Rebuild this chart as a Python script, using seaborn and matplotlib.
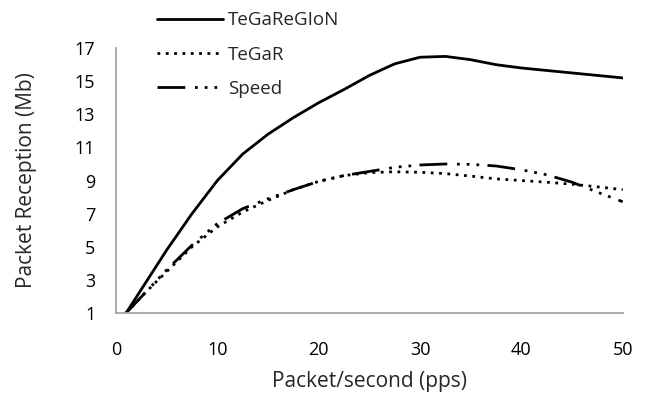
import pandas as pd
import matplotlib
matplotlib.use("Agg")
import matplotlib.pyplot as plt
import seaborn as sns

# -------------------------------
# Data
# -------------------------------
pps = [1, 3, 5, 7.5, 10, 12.5, 15, 17.5, 20, 22.5, 25, 27.5, 30,
       32.5, 35, 37.5, 40, 42.5, 45, 47.5, 50]

tegaregion = [1.0, 2.9, 4.8, 7.0, 9.0, 10.6, 11.8, 12.8, 13.7, 14.5, 15.35,
              16.05, 16.45, 16.5, 16.3, 16.0, 15.8, 15.65, 15.5, 15.35, 15.2]
tegar = [1.0, 2.3, 3.5, 5.0, 6.2, 7.1, 7.8, 8.45, 8.95, 9.3, 9.48,
         9.53, 9.5, 9.42, 9.27, 9.1, 9.0, 8.9, 8.78, 8.62, 8.45]
speed = [1.0, 2.3, 3.6, 5.1, 6.4, 7.3, 7.9, 8.45, 8.95, 9.3, 9.55,
         9.8, 9.94, 10.0, 9.98, 9.88, 9.65, 9.35, 8.9, 8.3, 7.72]

series_names = ["TeGaReGIoN", "TeGaR", "Speed"]
x_ticks = [0, 10, 20, 30, 40, 50]
y_ticks = [1, 3, 5, 7, 9, 11, 13, 15, 17]

df = pd.DataFrame({
    "pps": pps * 3,
    "value": tegaregion + tegar + speed,
    "series": [series_names[0]] * len(pps) + [series_names[1]] * len(pps)
              + [series_names[2]] * len(pps),
})

# -------------------------------
# Style
# -------------------------------
sns.set_style("white")
plt.rcParams["font.family"] = ["Open Sans", "DejaVu Sans"]

fig, ax = plt.subplots(figsize=(6.48, 4.01), dpi=100)
fig.subplots_adjust(left=0.179, right=0.961, bottom=0.2195, top=0.880)

dash_styles = {
    "TeGaReGIoN": "",
    "TeGaR": (1, 2),
    "Speed": (10, 3.5, 1, 2.5, 1, 2.5, 1, 3),
}

sns.lineplot(data=df, x="pps", y="value", style="series", style_order=series_names,
             dashes=dash_styles, color="black", linewidth=2, ax=ax, sort=False)

ax.set_xlim(0, 50)
ax.set_ylim(1, 17)
ax.set_xticks(x_ticks)
ax.set_yticks(y_ticks)
ax.tick_params(axis="both", length=0, labelsize=13, colors="black")
ax.tick_params(axis="y", pad=15)
ax.tick_params(axis="x", pad=20)

for side in ["top", "right"]:
    ax.spines[side].set_visible(False)
for side in ["left", "bottom"]:
    ax.spines[side].set_color("#a6a6a6")
    ax.spines[side].set_linewidth(1.3)

ax.set_xlabel("Packet/second (pps)", fontsize=15, labelpad=9)
ax.set_ylabel("Packet Reception (Mb)", fontsize=15, labelpad=27)

handles, labels = ax.get_legend_handles_labels()
ax.legend(handles, labels, loc="upper left", bbox_to_anchor=(0.242, 0.972),
          bbox_transform=fig.transFigure, frameon=False, fontsize=13.5,
          borderpad=0, borderaxespad=0, handlelength=3.55, handletextpad=0.25,
          labelspacing=0.87)

fig.savefig("out.png", dpi=100)
